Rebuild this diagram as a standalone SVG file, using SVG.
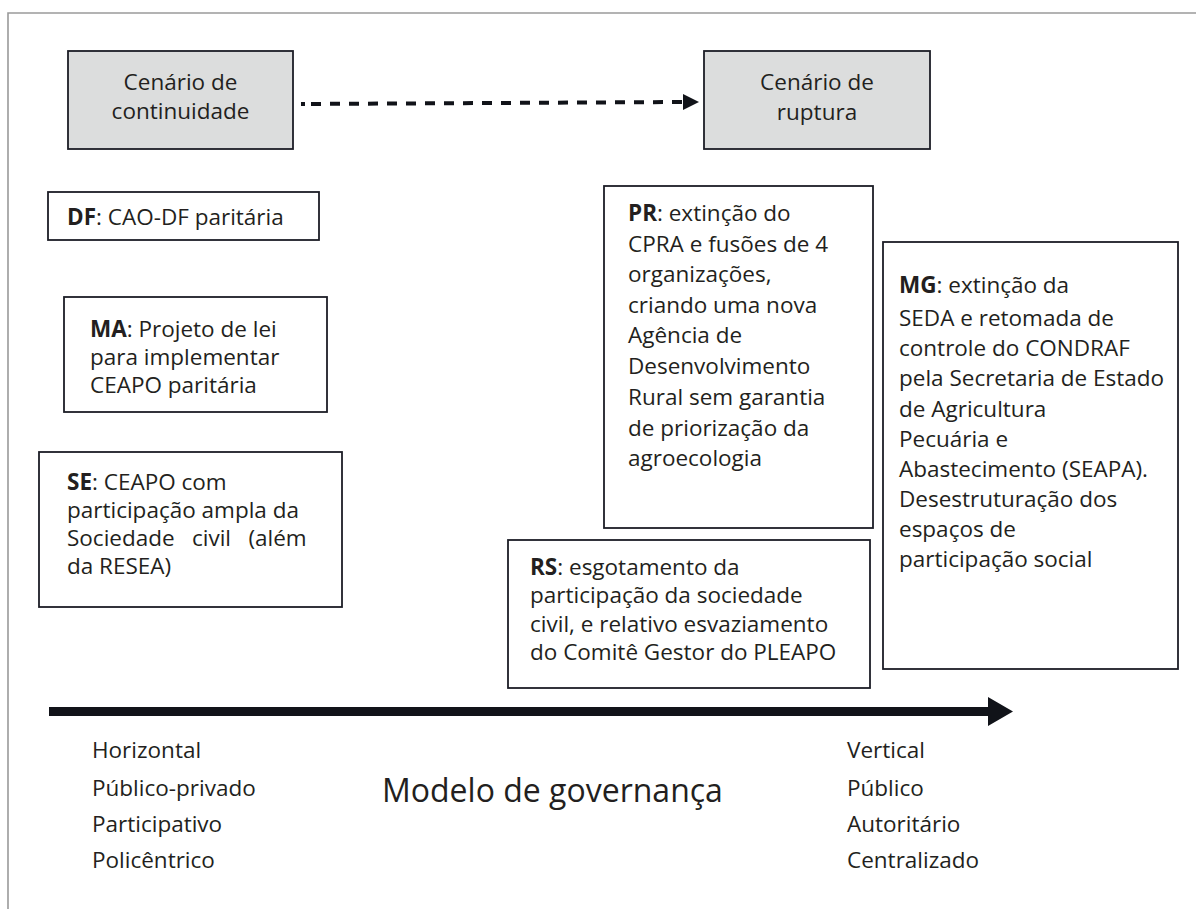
<svg xmlns="http://www.w3.org/2000/svg" width="1196" height="909" viewBox="0 0 1196 909">
<defs>
<style>
text{font-family:"Open Sans","Noto Sans","Liberation Sans",sans-serif;fill:#231f20;font-size:22.5px}
.b{font-weight:700}
.box{fill:#ffffff;stroke:#1c1d26;stroke-width:1.8}
.gbox{fill:#dcdddd;stroke:#1c1d26;stroke-width:1.8}
.mid{text-anchor:middle}
</style>
<marker id="ah" markerWidth="4" markerHeight="4" refX="0" refY="2" orient="auto" markerUnits="strokeWidth">
<path d="M0,0 L4,2 L0,4 Z" fill="#111319"/>
</marker>
</defs>
<rect x="0" y="0" width="1196" height="909" fill="#ffffff"/>
<path d="M8,909 L8,13 L1196,13" fill="none" stroke="#9a9a9a" stroke-width="1.6"/>

<g id="cenario-continuidade">
<rect class="gbox" x="68" y="51" width="225" height="98"/>
<text class="mid" x="180.5" y="90">Cenário de</text>
<text class="mid" x="180.5" y="119">continuidade</text>
</g>

<g id="cenario-ruptura">
<rect class="gbox" x="704" y="51" width="226" height="98"/>
<text class="mid" x="817" y="90">Cenário de</text>
<text class="mid" x="817" y="120">ruptura</text>
</g>

<g id="df">
<rect class="box" x="48" y="192" width="271" height="48"/>
<text x="67" y="225"><tspan class="b">DF</tspan>: CAO-DF paritária</text>
</g>

<g id="ma">
<rect class="box" x="64" y="297" width="263" height="115"/>
<text x="90" y="337"><tspan class="b">MA</tspan>: Projeto de lei</text>
<text x="90" y="365">para implementar</text>
<text x="90" y="393">CEAPO paritária</text>
</g>

<g id="se">
<rect class="box" x="39" y="452" width="303" height="155"/>
<text x="67" y="490"><tspan class="b">SE</tspan>: CEAPO com</text>
<text x="67" y="518">participação ampla da</text>
<text x="67" y="546" style="word-spacing:11.5px">Sociedade civil (além</text>
<text x="67" y="574">da RESEA)</text>
</g>

<g id="pr">
<rect class="box" x="604" y="186" width="269" height="342"/>
<text x="628" y="221"><tspan class="b">PR</tspan>: extinção do</text>
<text x="628" y="252">CPRA e fusões de 4</text>
<text x="628" y="282">organizações,</text>
<text x="628" y="313">criando uma nova</text>
<text x="628" y="343">Agência de</text>
<text x="628" y="374">Desenvolvimento</text>
<text x="628" y="405">Rural sem garantia</text>
<text x="628" y="436">de priorização da</text>
<text x="628" y="466">agroecologia</text>
</g>

<g id="mg">
<rect class="box" x="883" y="242" width="295" height="427"/>
<text x="899" y="293"><tspan class="b">MG</tspan>: extinção da</text>
<text x="899" y="326">SEDA e retomada de</text>
<text x="899" y="356">controle do CONDRAF</text>
<text x="899" y="386">pela Secretaria de Estado</text>
<text x="899" y="417">de Agricultura</text>
<text x="899" y="447">Pecuária e</text>
<text x="899" y="477">Abastecimento (SEAPA).</text>
<text x="899" y="507">Desestruturação dos</text>
<text x="899" y="537">espaços de</text>
<text x="899" y="567">participação social</text>
</g>

<g id="rs">
<rect class="box" x="508" y="540" width="362" height="148"/>
<text x="530" y="575"><tspan class="b">RS</tspan>: esgotamento da</text>
<text x="530" y="603">participação da sociedade</text>
<text x="530" y="632">civil, e relativo esvaziamento</text>
<text x="530" y="660">do Comitê Gestor do PLEAPO</text>
</g>

<g id="connectors">
<line x1="301" y1="104" x2="683" y2="102" stroke="#111319" stroke-width="4" stroke-dasharray="4 6 10 9 10 9 10 9 10 9 10 9 10 9 10 9 10 9 10 9 10 9 10 9 10 9 10 9 10 9 10 9 10 9 10 9 10 9 10 9 10 9 10 9" marker-end="url(#ah)"/>
<path d="M49,707 L988,707 L988,697 L1013,711.5 L988,726 L988,716 L49,716 Z" fill="#111319"/>
</g>

<g id="axis-labels">
<text x="92" y="758">Horizontal</text>
<text x="92" y="796">Público-privado</text>
<text x="92" y="832">Participativo</text>
<text x="92" y="868">Policêntrico</text>
<text x="382" y="802" style="font-size:32px">Modelo de governança</text>
<text x="847" y="758">Vertical</text>
<text x="847" y="796">Público</text>
<text x="847" y="832">Autoritário</text>
<text x="847" y="868">Centralizado</text>
</g>
</svg>
